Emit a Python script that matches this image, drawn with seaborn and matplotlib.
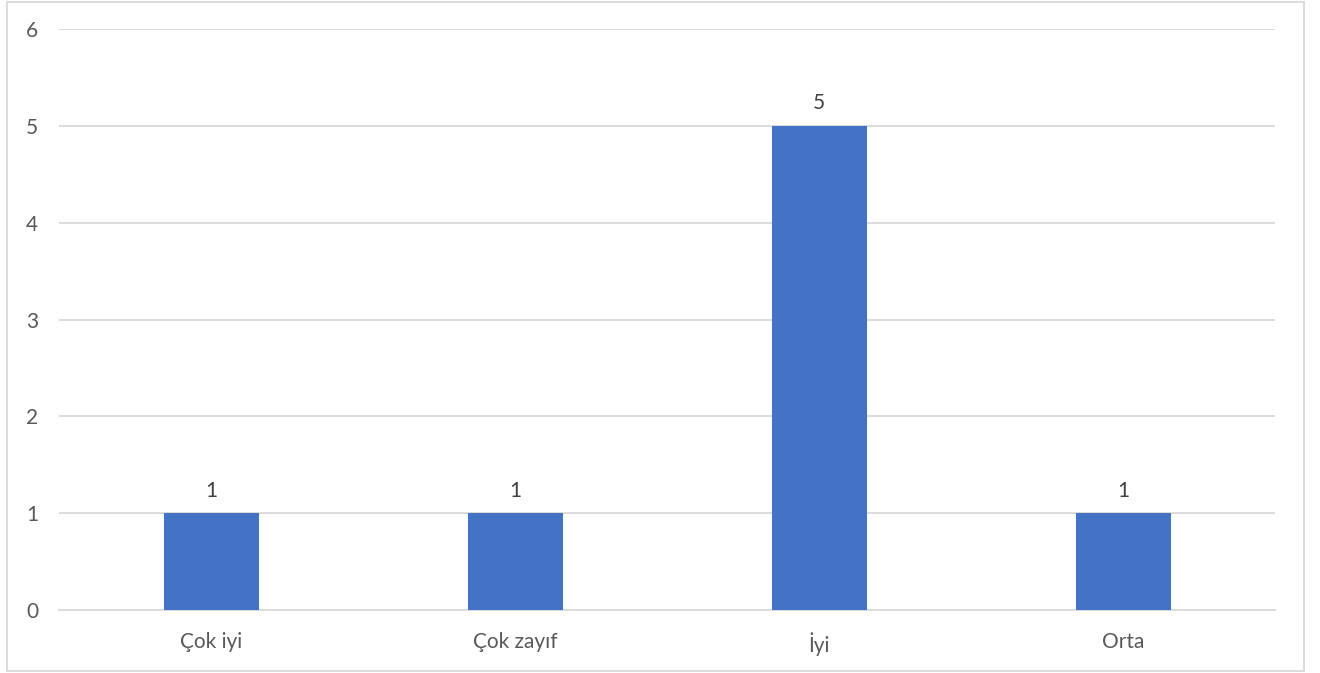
import matplotlib
matplotlib.use("Agg")
import matplotlib.pyplot as plt
import seaborn as sns
import pandas as pd
from matplotlib.patches import Rectangle

categories = ["Çok iyi", "Çok zayıf", "İyi", "Orta"]
values = [1, 1, 5, 1]
yticks = [0, 1, 2, 3, 4, 5, 6]

sns.set_theme(style="white")
plt.rcParams['font.family'] = ['Lato', 'DejaVu Sans']

df = pd.DataFrame({"cat": categories, "val": values})

fig = plt.figure(figsize=(13.2, 6.73), dpi=100)
ax = fig.add_axes([59/1320, 1-610/673, (1275-59)/1320, (610-29)/673])
sns.barplot(data=df, x="cat", y="val", color="#4472C4", width=0.3125,
            saturation=1, ax=ax, zorder=3, linewidth=0)
ax.set_xlim(-0.5, 3.5)
ax.set_ylim(0, 6)
ax.set_yticks(yticks)
ax.set_yticklabels([str(t) for t in yticks])
ax.yaxis.grid(True, color="#d9d9d9", linewidth=1.3, zorder=0)
ax.set_axisbelow(True)
for s in ["top", "right", "left"]:
    ax.spines[s].set_visible(False)
ax.spines["bottom"].set_color("#d9d9d9")
ax.spines["bottom"].set_linewidth(1.3)
ax.set_xlabel("")
ax.set_ylabel("")
ax.tick_params(axis="both", length=0, labelsize=15, colors="#595959")
ax.tick_params(axis="y", pad=15)
ax.tick_params(axis="x", pad=16)
for c in ax.containers:
    ax.bar_label(c, labels=[str(v) for v in values], padding=9,
                 fontsize=15, color="#404040")

fig.patches.append(Rectangle((7/1320, 2/673), (1304-7)/1320, (671-2)/673,
                             transform=fig.transFigure, fill=False,
                             edgecolor="#d9d9d9", linewidth=1.3))
fig.savefig("out.png", dpi=100)
